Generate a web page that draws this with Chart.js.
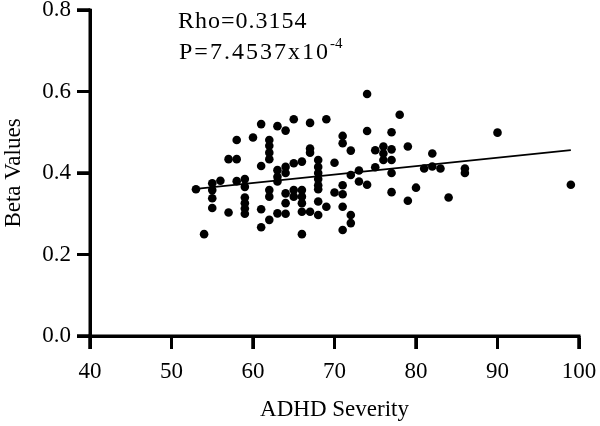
<!DOCTYPE html>
<html>
<head>
<meta charset="utf-8">
<script src="https://cdn.jsdelivr.net/npm/chart.js@4.4.0/dist/chart.umd.min.js"></script>
<style>
  body { margin: 0; background: #fff; }
  #wrap { width: 600px; height: 426px; }
</style>
</head>
<body>
<div id="wrap"><canvas id="myChart" width="600" height="426"></canvas></div>
<script>
// ADHD severity score per subject
const severity = [
  53, 54,
  55, 55, 55, 55,
  56,
  57, 57,
  58, 58, 58,
  59, 59, 59, 59, 59, 59,
  60,
  61, 61, 61, 61,
  62, 62, 62, 62, 62, 62, 62,
  63, 63, 63, 63, 63,
  64, 64, 64, 64, 64, 64,
  65, 65, 65, 65,
  66, 66, 66, 66, 66, 66,
  67, 67, 67, 67,
  68, 68, 68, 68, 68, 68, 68, 68,
  69, 69,
  70, 70,
  71, 71, 71, 71, 71, 71,
  72, 72, 72, 72,
  73, 73,
  74, 74, 74,
  75, 75,
  76, 76, 76,
  77, 77, 77, 77, 77,
  78,
  79, 79,
  80, 81,
  82, 82,
  83, 84,
  86, 86,
  90, 99
];
// methylation beta value per subject (same order)
const betaValues = [
  0.360, 0.250,
  0.375, 0.358, 0.338, 0.314,
  0.381,
  0.434, 0.303,
  0.434, 0.481, 0.380,
  0.385, 0.366, 0.340, 0.326, 0.313, 0.300,
  0.487,
  0.520, 0.417, 0.311, 0.267,
  0.481, 0.467, 0.450, 0.434, 0.358, 0.342, 0.285,
  0.515, 0.407, 0.391, 0.379, 0.301,
  0.504, 0.415, 0.400, 0.350, 0.326, 0.300,
  0.532, 0.424, 0.358, 0.342,
  0.428, 0.358, 0.342, 0.326, 0.305, 0.250,
  0.523, 0.460, 0.450, 0.305,
  0.432, 0.415, 0.400, 0.385, 0.370, 0.360, 0.330, 0.297,
  0.532, 0.317,
  0.425, 0.352,
  0.491, 0.473, 0.370, 0.348, 0.317, 0.260,
  0.455, 0.395, 0.297, 0.277,
  0.406, 0.379,
  0.594, 0.503, 0.371,
  0.456, 0.414,
  0.465, 0.448, 0.432,
  0.500, 0.458, 0.432, 0.400, 0.353,
  0.543,
  0.465, 0.332,
  0.364, 0.411,
  0.448, 0.416,
  0.411, 0.340,
  0.411, 0.400,
  0.499, 0.371
];
// fitted line end points
const fitX = [53, 99];
const fitY = [0.361, 0.456];

const xTicks = [40, 50, 60, 70, 80, 90, 100];
const yTicks = [0.0, 0.2, 0.4, 0.6, 0.8];

const statLines = ['Rho=0.3154', 'P=7.4537x10', '-4'];

const serif = 'Liberation Serif, Times New Roman, serif';

const points = severity.map((s, i) => ({ x: s, y: betaValues[i] }));
const fit = fitX.map((s, i) => ({ x: s, y: fitY[i] }));

// thick axis lines + outward tick marks
const prismAxes = {
  id: 'prismAxes',
  afterDraw(chart) {
    const { ctx, chartArea: a, scales: { x, y } } = chart;
    const tick = 13, lw = 3, h = lw / 2;
    ctx.save();
    ctx.fillStyle = '#000';
    ctx.strokeStyle = '#000';
    ctx.lineWidth = lw;
    ctx.fillRect(a.left - h, a.top - h, lw, a.bottom - a.top + lw);
    ctx.fillRect(a.left - h, a.bottom - h, a.right - a.left + lw, lw);
    for (const v of xTicks) {
      const px = x.getPixelForValue(v);
      ctx.fillRect(px - h, a.bottom, lw, tick);
      ctx.beginPath();
      ctx.moveTo(px, a.bottom);
      ctx.lineTo(px, a.bottom + tick);
      ctx.stroke();
    }
    for (const v of yTicks) {
      const py = y.getPixelForValue(v);
      ctx.fillRect(a.left - tick, py - h, tick, lw);
      ctx.beginPath();
      ctx.moveTo(a.left - tick, py);
      ctx.lineTo(a.left, py);
      ctx.stroke();
    }
    ctx.restore();
  }
};

// draws the Rho / P text in the upper left
const statsText = {
  id: 'statsText',
  afterDraw(chart) {
    const ctx = chart.ctx;
    ctx.save();
    ctx.fillStyle = '#000';
    ctx.textBaseline = 'alphabetic';
    ctx.font = '24px ' + serif;
    ctx.letterSpacing = '1px';
    ctx.fillText(statLines[0], 178, 28);
    ctx.letterSpacing = '2px';
    ctx.fillText(statLines[1], 179, 59);
    const w = ctx.measureText(statLines[1]).width;
    ctx.letterSpacing = '0px';
    ctx.font = '15px ' + serif;
    ctx.fillText(statLines[2], 179 + w, 48);
    ctx.restore();
  }
};

new Chart(document.getElementById('myChart').getContext('2d'), {
  type: 'scatter',
  data: {
    datasets: [
      {
        data: points,
        backgroundColor: '#000',
        borderColor: '#000',
        borderWidth: 0,
        pointRadius: 4.3,
        pointHoverRadius: 4.3
      },
      {
        type: 'line',
        data: fit,
        borderColor: '#000',
        borderWidth: 1.8,
        pointRadius: 0,
        fill: false
      }
    ]
  },
  options: {
    responsive: false,
    animation: false,
    devicePixelRatio: 1,
    layout: { padding: { top: 10, right: 21, left: 0, bottom: 0 } },
    plugins: { legend: { display: false }, tooltip: { enabled: false } },
    scales: {
      x: {
        type: 'linear',
        min: xTicks[0],
        max: xTicks[xTicks.length - 1],
        afterBuildTicks: s => { s.ticks = xTicks.map(v => ({ value: v })); },
        afterFit: s => { s.height = 90; s.paddingRight = 0; s.paddingLeft = 0; },
        border: { display: true, color: '#000', width: 3 },
        grid: { display: true, drawOnChartArea: false, drawTicks: true, tickLength: 13, tickWidth: 3, tickColor: '#000', color: '#000' },
        ticks: { color: '#000', font: { family: serif, size: 23 }, padding: 9, maxRotation: 0 },
        title: { display: true, text: 'ADHD Severity', color: '#000', font: { family: serif, size: 23 }, padding: { top: 0, bottom: 2 } }
      },
      y: {
        type: 'linear',
        min: yTicks[0],
        max: yTicks[yTicks.length - 1],
        afterBuildTicks: s => { s.ticks = yTicks.map(v => ({ value: v })); },
        afterFit: s => { s.width = 90; s.paddingTop = 0; s.paddingBottom = 0; },
        border: { display: true, color: '#000', width: 3 },
        grid: { display: true, drawOnChartArea: false, drawTicks: true, tickLength: 13, tickWidth: 3, tickColor: '#000', color: '#000' },
        ticks: { color: '#000', font: { family: serif, size: 23 }, padding: 6, callback: v => v.toFixed(1) },
        title: { display: true, text: 'Beta Values', color: '#000', font: { family: serif, size: 23 }, padding: 0 }
      }
    }
  },
  plugins: [prismAxes, statsText]
});
</script>
</body>
</html>
